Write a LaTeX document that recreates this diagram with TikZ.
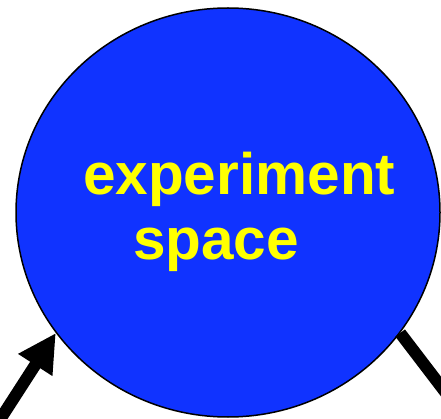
\documentclass[tikz,border=0pt]{standalone}
\usepackage{fontspec}
\setmainfont{Liberation Sans}
\usetikzlibrary{arrows.meta,shapes.geometric}
\definecolor{spaceblue}{RGB}{16,51,255}
\definecolor{labelyellow}{RGB}{255,255,0}
\begin{document}
\begin{tikzpicture}[x=1pt,y=-1pt,
  blob/.style={ellipse,draw=black,line width=1.5pt,fill=spaceblue,minimum width=424pt,minimum height=409pt,inner sep=0pt},
  label/.style={text=labelyellow,font=\fontsize{58.5}{60}\selectfont\bfseries,inner sep=0pt,anchor=base west},
  thick link/.style={line width=12pt,draw=black}]
\useasboundingbox (0,0) rectangle (441,419);
\node[blob] (c) at (228,212.5) {};
\node[label] (t1) at (83,195) {experiment};
\node[label] (t2) at (133,260) {space};
\coordinate (in) at (-8,432);
\coordinate (out) at (462,414);
\draw[thick link,-{Triangle[length=38pt,width=38pt]}] (in) -- (c.215.6);
\draw[thick link] (c.325.2) -- (out);
\end{tikzpicture}
\end{document}
